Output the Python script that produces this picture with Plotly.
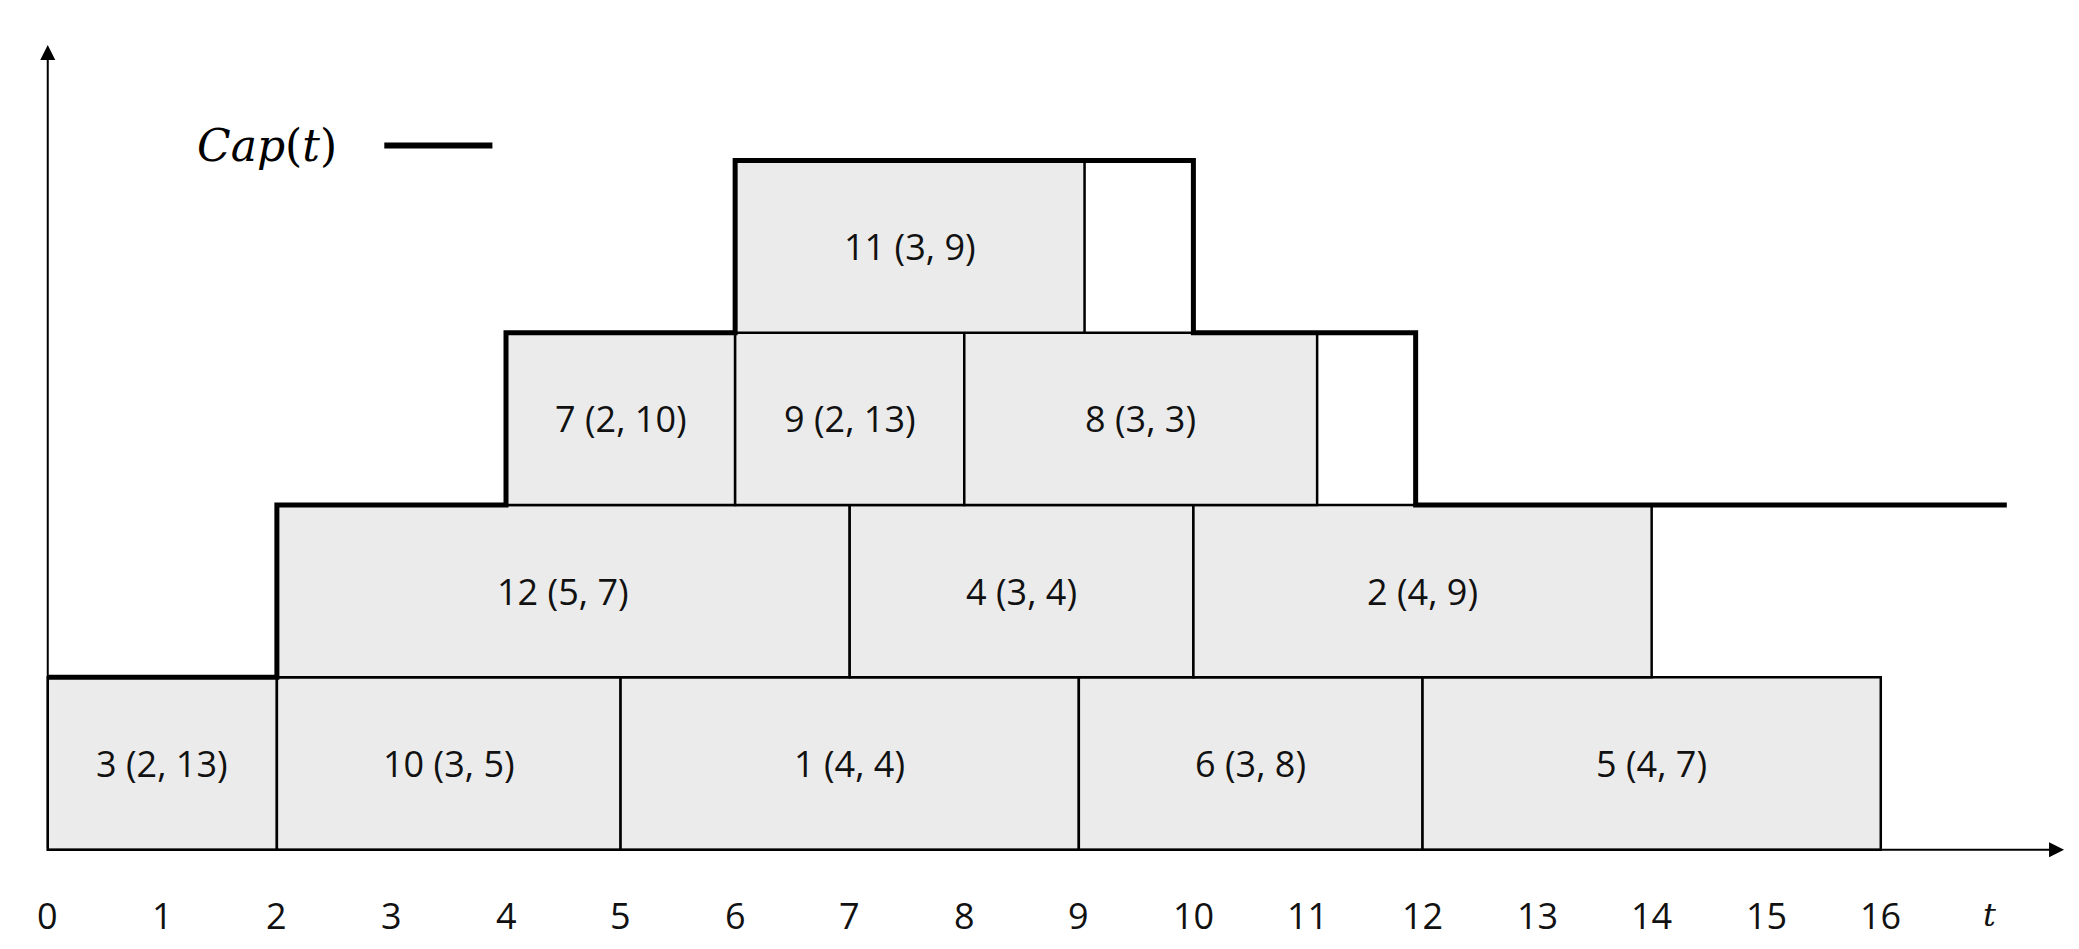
import plotly.graph_objects as go

# Jobs: label, start, end, row
job_labels = ["3 (2, 13)", "10 (3, 5)", "1 (4, 4)", "6 (3, 8)", "5 (4, 7)",
              "12 (5, 7)", "4 (3, 4)", "2 (4, 9)",
              "7 (2, 10)", "9 (2, 13)", "8 (3, 3)",
              "11 (3, 9)"]
job_start = [0, 2, 5, 9, 12, 2, 7, 10, 4, 6, 8, 6]
job_end = [2, 5, 9, 12, 16, 7, 10, 14, 6, 8, 11.08, 9.05]
job_row = [0, 0, 0, 0, 0, 1, 1, 1, 2, 2, 2, 3]

# Capacity step function
cap_x = [0, 2, 2, 4, 4, 6, 6, 10, 10, 11.94, 11.94, 17.1]
cap_y = [1, 1, 2, 2, 3, 3, 4, 4, 3, 3, 2, 2]

tick_vals = list(range(17))
tick_text = [str(v) for v in tick_vals]

fig = go.Figure()
for lab, s, e, r in zip(job_labels, job_start, job_end, job_row):
    fig.add_shape(type="rect", x0=s, x1=e, y0=r, y1=r + 1,
                  fillcolor="#ebebeb", line=dict(color="black", width=2.5), layer="below")
    fig.add_annotation(x=(s + e) / 2, y=r + 0.5, text=lab, showarrow=False,
                       font=dict(family="Open Sans", size=36, color="#111"))

fig.add_trace(go.Scatter(x=cap_x, y=cap_y, mode="lines",
                         line=dict(color="black", width=5), hoverinfo="skip"))

# axes arrows
fig.add_annotation(x=17.6, y=0, ax=0, ay=0, xref="x", yref="y", axref="x", ayref="y",
                   showarrow=True, arrowhead=2, arrowsize=1.5, arrowwidth=2,
                   arrowcolor="black", text="")
fig.add_annotation(x=0, y=4.67, ax=0, ay=0, xref="x", yref="y", axref="x", ayref="y",
                   showarrow=True, arrowhead=2, arrowsize=1.5, arrowwidth=2,
                   arrowcolor="black", text="")

for v, t in zip(tick_vals, tick_text):
    fig.add_annotation(x=v, y=-0.38, text=t, showarrow=False,
                       font=dict(family="Open Sans", size=36, color="#111"))
fig.add_annotation(x=16.95, y=-0.38, text="<i>t</i>", showarrow=False,
                   font=dict(family="DejaVu Serif", size=32, color="#111"))

# legend
fig.add_annotation(x=0.09, y=0.855, xref="paper", yref="paper", text="<i>Cap</i>(<i>t</i>)",
                   showarrow=False, xanchor="left", yanchor="middle",
                   font=dict(family="DejaVu Serif", size=44, color="black"))
fig.add_shape(type="line", xref="paper", yref="paper", x0=0.181, x1=0.233, y0=0.855, y1=0.855,
              line=dict(color="black", width=6))

fig.update_layout(width=2079, height=949, margin=dict(l=0, r=0, t=0, b=0),
                  plot_bgcolor="white", paper_bgcolor="white", showlegend=False,
                  xaxis=dict(range=[-0.347, 17.8], visible=False),
                  yaxis=dict(range=[-0.623, 4.885], visible=False))
fig.write_html("out.html")
